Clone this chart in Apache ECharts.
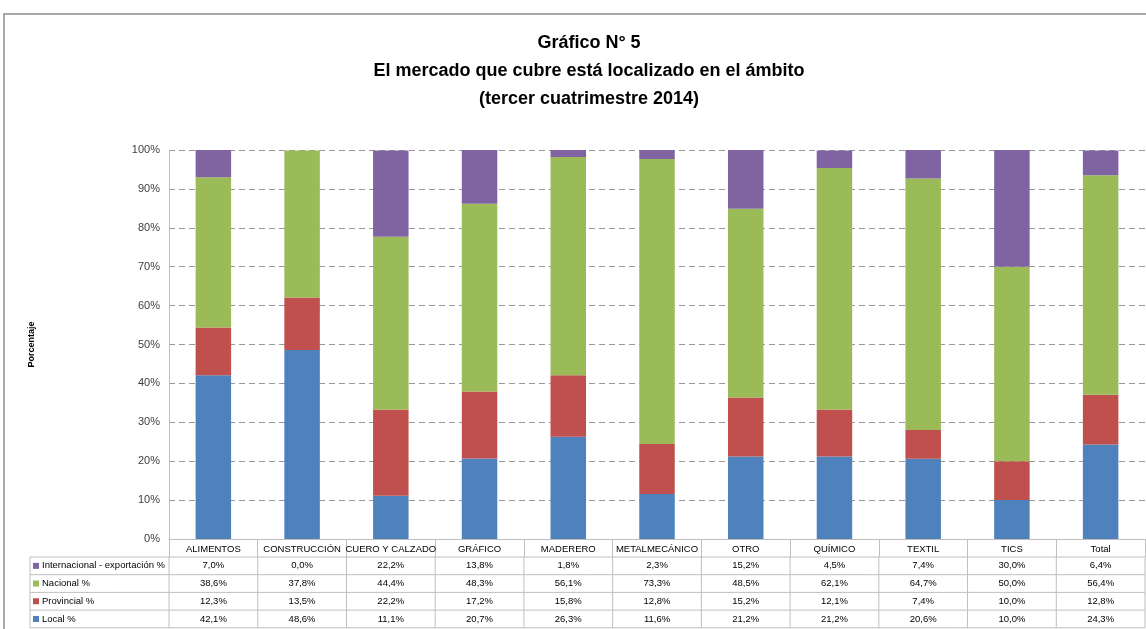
<!DOCTYPE html>
<html>
<head>
<meta charset="utf-8">
<script src="https://cdn.jsdelivr.net/npm/echarts@6/dist/echarts.min.js"></script>
<style>
  html, body { margin: 0; padding: 0; background: #fff; }
  #chart { width: 1146px; height: 629px; }
</style>
</head>
<body>
<div id="chart"></div>
<script>
// categorias del eje x
const categories = ["ALIMENTOS", "CONSTRUCCIÓN", "CUERO Y CALZADO", "GRÁFICO", "MADERERO",
  "METALMECÁNICO", "OTRO", "QUÍMICO", "TEXTIL", "TICS", "Total"];
// series (% por ámbito)
const local = [42.1, 48.6, 11.1, 20.7, 26.3, 11.6, 21.2, 21.2, 20.6, 10.0, 24.3];
const provincial = [12.3, 13.5, 22.2, 17.2, 15.8, 12.8, 15.2, 12.1, 7.4, 10.0, 12.8];
const nacional = [38.6, 37.8, 44.4, 48.3, 56.1, 73.3, 48.5, 62.1, 64.7, 50.0, 56.4];
const internacional = [7.0, 0.0, 22.2, 13.8, 1.8, 2.3, 15.2, 4.5, 7.4, 30.0, 6.4];
const seriesNames = ["Local %", "Provincial %", "Nacional %", "Internacional - exportación %"];
const colors = ["#4F81BD", "#C0504D", "#9BBB59", "#8064A2"];
const yTicks = [0, 10, 20, 30, 40, 50, 60, 70, 80, 90, 100];

const FONT = "'Liberation Sans', Arial, sans-serif";
const chart = echarts.init(document.getElementById("chart"));
const values = [local, provincial, nacional, internacional];

chart.setOption({
  backgroundColor: "#fff",
  animation: false,
  title: {
    text: "Gráfico N° 5\nEl mercado que cubre está localizado en el ámbito\n(tercer cuatrimestre 2014)",
    left: 584,
    top: 24,
    textAlign: "center",
    textStyle: {
      fontFamily: FONT,
      fontWeight: "bold",
      fontSize: 18,
      lineHeight: 28,
      color: "#000"
    }
  },
  grid: { left: 169, right: 1, top: 150, bottom: 90 },
  xAxis: {
    type: "category",
    data: categories,
    axisLine: { lineStyle: { color: "#bfbfbf" } },
    axisTick: { show: true, length: 18, lineStyle: { color: "#bfbfbf" } },
    axisLabel: { interval: 0, fontFamily: FONT, fontSize: 9.5, color: "#000", margin: 5 }
  },
  yAxis: {
    type: "value",
    min: 0,
    max: 100,
    interval: 10,
    name: "Porcentaje",
    nameLocation: "middle",
    nameRotate: 90,
    nameGap: 133,
    nameTextStyle: { fontFamily: FONT, fontSize: 9, fontWeight: "bold", color: "#000" },
    axisLine: { show: true, lineStyle: { color: "#bfbfbf" } },
    axisTick: { show: false },
    axisLabel: {
      fontFamily: FONT, fontSize: 11, color: "#404040", margin: 9,
      formatter: function (v) { return yTicks.indexOf(v) >= 0 ? v + "%" : ""; }
    },
    splitLine: { lineStyle: { color: "#999", type: [6, 4] } }
  },
  series: values.map(function (d, i) {
    return {
      name: seriesNames[i],
      type: "bar",
      stack: "total",
      data: d,
      barWidth: "40%",
      itemStyle: { color: colors[i] }
    };
  })
});

// tabla de datos debajo del grafico
const rowTop = 557;
const rowH = 17.7;
const order = [3, 2, 1, 0];
const gfx = [];
gfx.push({
  type: "rect", silent: true,
  shape: { x: 4, y: 14, width: 1300, height: 800 },
  style: { fill: "none", stroke: "#8c8c8c", lineWidth: 1.5 }
});
const x0 = chart.convertToPixel({ xAxisIndex: 0 }, categories[0]);
const x1 = chart.convertToPixel({ xAxisIndex: 0 }, categories[1]);
const cw = x1 - x0;
const left = x0 - cw / 2;
const right = left + cw * categories.length;
for (let r = 0; r <= order.length; r++) {
  gfx.push({
    type: "line", silent: true,
    shape: { x1: 30, y1: rowTop + r * rowH, x2: right, y2: rowTop + r * rowH },
    style: { stroke: "#bfbfbf", lineWidth: 1 }
  });
}
gfx.push({
  type: "line", silent: true,
  shape: { x1: 30, y1: rowTop, x2: 30, y2: rowTop + order.length * rowH },
  style: { stroke: "#bfbfbf", lineWidth: 1 }
});
for (let c = 0; c <= categories.length; c++) {
  const x = left + c * cw;
  gfx.push({
    type: "line", silent: true,
    shape: { x1: x, y1: rowTop, x2: x, y2: rowTop + order.length * rowH },
    style: { stroke: "#bfbfbf", lineWidth: 1 }
  });
}
order.forEach(function (si, r) {
  const cy = rowTop + r * rowH + rowH / 2;
  gfx.push({
    type: "rect", silent: true,
    shape: { x: 33, y: cy - 3, width: 6, height: 6 },
    style: { fill: colors[si] }
  });
  gfx.push({
    type: "text", silent: true, x: 42, y: cy,
    style: { text: seriesNames[si], fontFamily: FONT, fontSize: 9.5, fill: "#000", verticalAlign: "middle" }
  });
  categories.forEach(function (cat, c) {
    gfx.push({
      type: "text", silent: true,
      x: chart.convertToPixel({ xAxisIndex: 0 }, cat), y: cy,
      style: {
        text: values[si][c].toFixed(1).replace(".", ",") + "%",
        fontFamily: FONT, fontSize: 9.5, fill: "#000",
        align: "center", verticalAlign: "middle"
      }
    });
  });
});
chart.setOption({ graphic: gfx });
</script>
</body>
</html>
